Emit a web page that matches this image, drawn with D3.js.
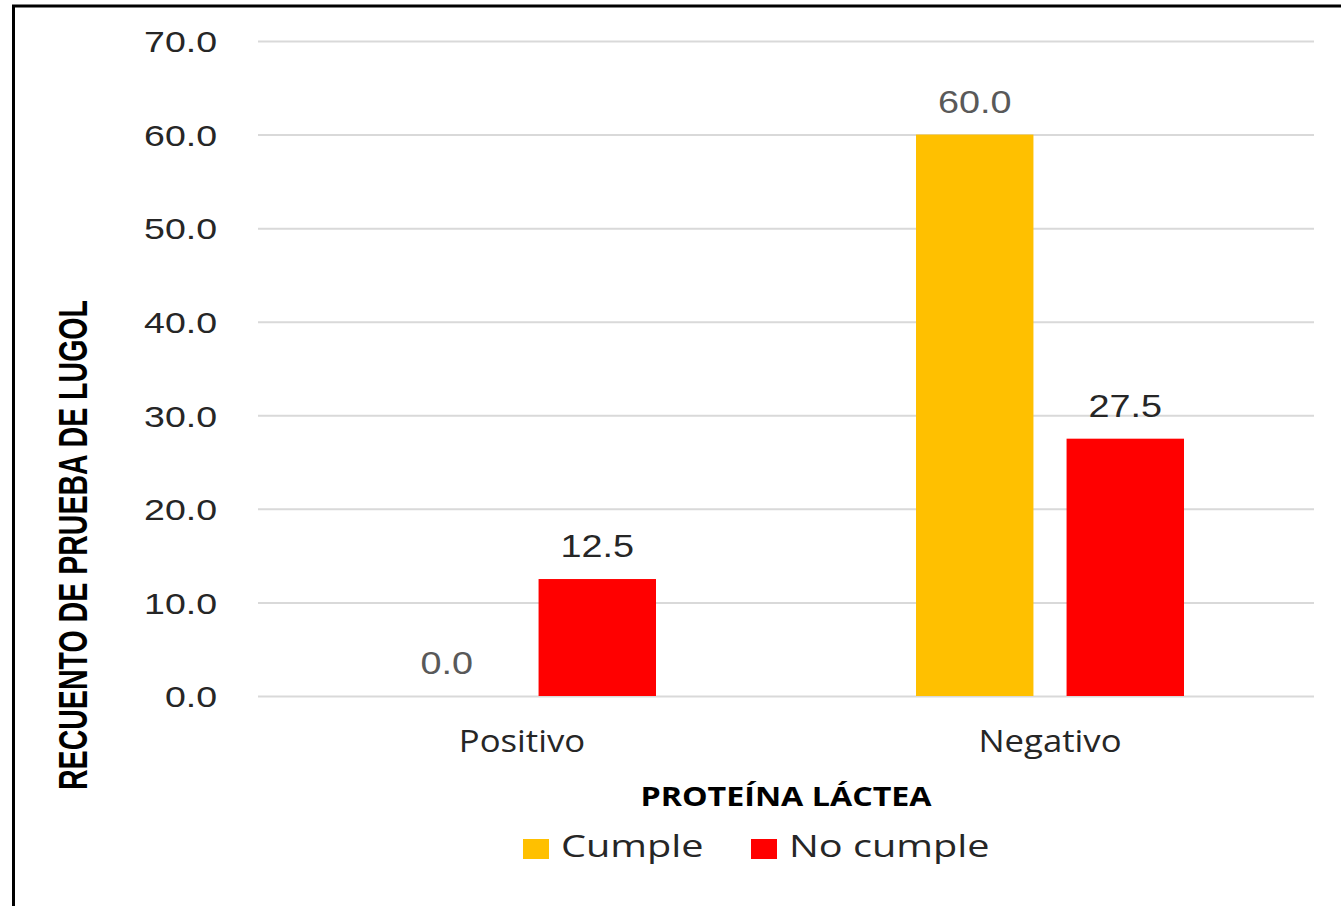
<!DOCTYPE html>
<html><head><meta charset="utf-8">
<script src="https://cdn.jsdelivr.net/npm/d3@7"></script>
<style>body{margin:0;background:#fff}svg{display:block}</style>
</head><body>
<svg id="c" width="1341" height="906"></svg>
<script>
const categories = ["Positivo", "Negativo"];
const seriesNames = ["Cumple", "No cumple"];
const cumple = [0.0, 60.0];
const noCumple = [12.5, 27.5];
const yTicks = [0, 10, 20, 30, 40, 50, 60, 70];
const colors = ["#FFC000", "#FF0000"];

(function(){
const svg = d3.select("#c");
svg.append("path").attr("d","M13.5,906 L13.5,6 L1341,6").attr("fill","none").attr("stroke","#000").attr("stroke-width",3);

const pL = 258, pR = 1314, pT = 41, pB = 696;
const y = d3.scaleLinear().domain([0,70]).range([pB, pT]);
const x0 = d3.scaleBand().domain(categories).range([pL,pR]).paddingInner(0).paddingOuter(0);
const x1 = d3.scaleBand().domain(seriesNames).range([0, 268]).paddingInner(33/150).paddingOuter(0);
const groupOffset = (x0.bandwidth()-268)/2;

const yAxis = d3.axisLeft(y).tickValues(yTicks).tickSize(-(pR-pL)).tickFormat(d3.format(".1f")).tickPadding(40);
const ga = svg.append("g").attr("transform",`translate(${pL},0)`).call(yAxis);
ga.select(".domain").remove();
ga.selectAll(".tick line").attr("stroke","#d9d9d9").attr("stroke-width",2);
ga.selectAll(".tick text").attr("font-family","Liberation Sans, Arial, sans-serif").attr("font-size",30).attr("fill","#262626")
  .attr("x",0).attr("dy","0.36em").attr("transform","translate(-41,0) scale(1.25,1)");

const data = categories.map((c,i)=>({cat:c, vals:[{s:seriesNames[0],v:cumple[i],ci:0},{s:seriesNames[1],v:noCumple[i],ci:1}]}));
const g = svg.append("g");
const grp = g.selectAll("g").data(data).join("g").attr("transform",d=>`translate(${x0(d.cat)+groupOffset},0)`);
grp.selectAll("rect").data(d=>d.vals).join("rect")
  .attr("x",d=>x1(d.s)).attr("width",x1.bandwidth())
  .attr("y",d=>y(d.v)).attr("height",d=>pB-y(d.v)).attr("fill",d=>colors[d.ci]);
grp.selectAll("text").data(d=>d.vals).join("text")
  .attr("transform",d=>`translate(${x1(d.s)+x1.bandwidth()/2},${y(d.v)-22}) scale(1.22,1)`)
  .attr("text-anchor","middle").attr("font-family","Liberation Sans, Arial, sans-serif").attr("font-size",31)
  .attr("fill",d=>d.ci===0?"#595959":"#262626").text(d=>d3.format(".1f")(d.v));

svg.selectAll(".cat").data(categories).join("text").attr("class","cat")
  .attr("transform",d=>`translate(${x0(d)+x0.bandwidth()/2},752) scale(1.12,1)`).attr("text-anchor","middle")
  .attr("font-family","Open Sans, sans-serif").attr("font-size",31).attr("fill","#262626").text(d=>d);

svg.append("text").attr("transform","translate(786,806) scale(1.24,1)").attr("text-anchor","middle")
  .attr("font-family","Open Sans, sans-serif").attr("font-weight","bold").attr("font-size",26).attr("fill","#000")
  .text("PROTEÍNA LÁCTEA");
svg.append("text").attr("transform","translate(87,545) scale(1.27,1) rotate(-90)").attr("text-anchor","middle")
  .attr("font-family","Liberation Sans Narrow, Liberation Sans, Arial, sans-serif").attr("font-weight","bold").attr("font-size",32).attr("fill","#000")
  .attr("textLength",490).attr("lengthAdjust","spacingAndGlyphs")
  .text("RECUENTO DE  PRUEBA DE LUGOL");

const legX = [523, 751];
const lg = svg.selectAll(".leg").data(seriesNames).join("g").attr("class","leg").attr("transform",(d,i)=>`translate(${legX[i]},839)`);
lg.append("rect").attr("width",26).attr("height",20).attr("fill",(d,i)=>colors[i]);
lg.append("text").attr("transform","translate(38,18) scale(1.28,1)").attr("font-family","Open Sans, sans-serif").attr("font-size",31).attr("fill","#262626").text(d=>d);
})();
</script>
</body></html>
